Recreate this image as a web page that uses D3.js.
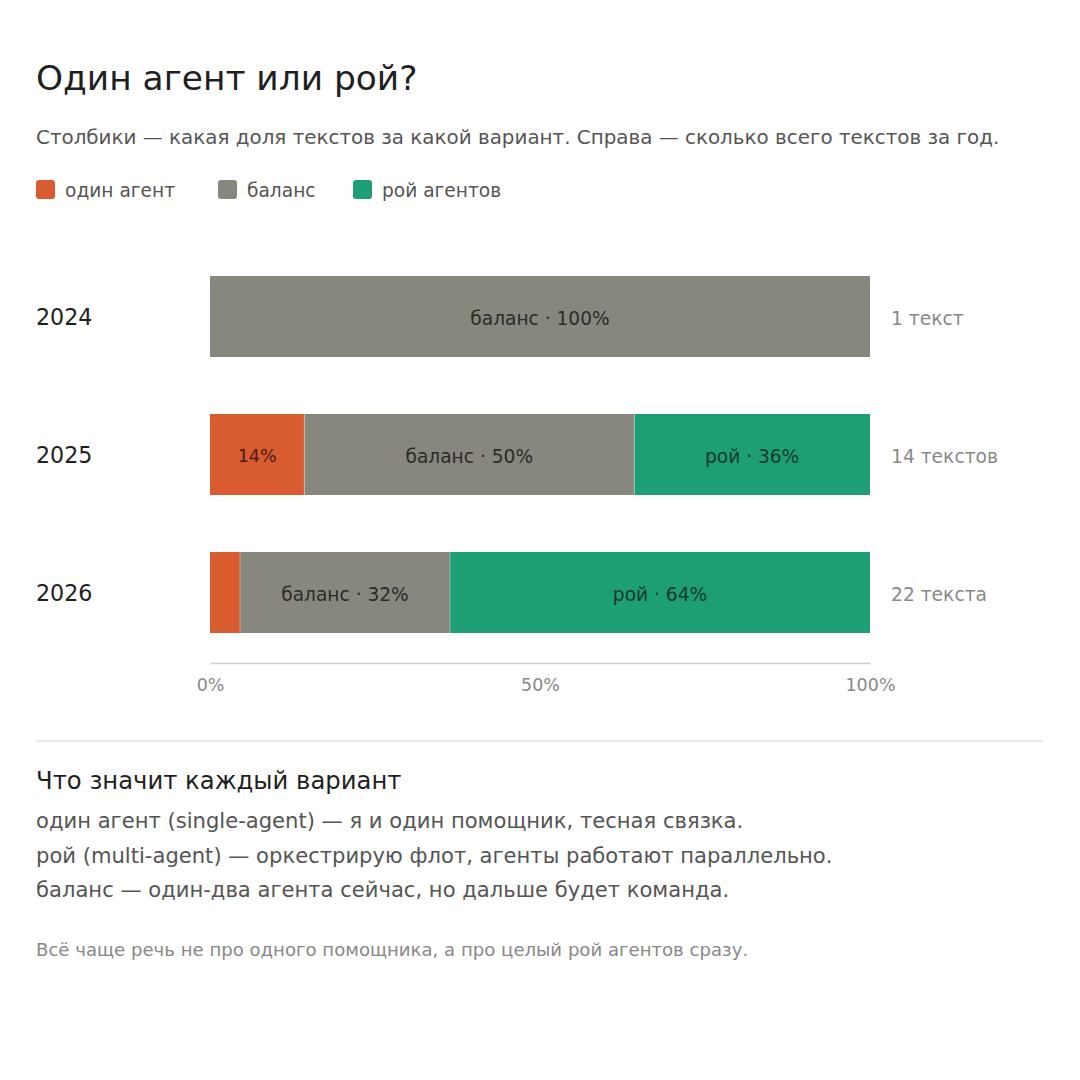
<!DOCTYPE html>
<html><head><meta charset="utf-8">
<script src="https://cdn.jsdelivr.net/npm/d3@7/dist/d3.min.js"></script>
<style>
html,body{margin:0;padding:0;background:#fff;}
svg{display:block;font-family:"DejaVu Sans",sans-serif;}
</style></head>
<body>
<svg id="chart" width="1080" height="1080"></svg>
<script>
const years = ["2024", "2025", "2026"];
const seriesKeys = ["single", "balance", "swarm"];
const seriesNames = ["один агент", "баланс", "рой агентов"];
const seriesShort = ["один", "баланс", "рой"];
const singleCounts = [0, 2, 1];
const balanceCounts = [1, 7, 7];
const swarmCounts = [0, 5, 14];
const totalLabels = ["1 текст", "14 текстов", "22 текста"];
const axisTicks = [0, 0.5, 1];
const colors = ["#D95B30", "#88877E", "#1E9E74"];
const textColors = ["#4a1c0e", "#2b2b28", "#0b3a2a"];
const definitions = [
  "один агент (single-agent) — я и один помощник, тесная связка.",
  "рой (multi-agent) — оркестрирую флот, агенты работают параллельно.",
  "баланс — один-два агента сейчас, но дальше будет команда."
];

const svg = d3.select("#chart");
const F = "DejaVu Sans";

svg.append("text").attr("x", 36).attr("y", 90).attr("font-size", 34.4).attr("fill", "#1f1f1f")
  .text("Один агент или рой?");
svg.append("text").attr("x", 36).attr("y", 144).attr("font-size", 19.9).attr("fill", "#555")
  .text("Столбики — какая доля текстов за какой вариант. Справа — сколько всего текстов за год.");

// legend
const legendX = [36, 218, 353];
seriesNames.forEach((n, i) => {
  svg.append("rect").attr("x", legendX[i]).attr("y", 180).attr("width", 19).attr("height", 19)
    .attr("rx", 3).attr("fill", colors[i]);
  svg.append("text").attr("x", legendX[i] + 29).attr("y", 197).attr("font-size", 18.6).attr("fill", "#555").text(n);
});

const rows = years.map((y, i) => {
  const vals = [singleCounts[i], balanceCounts[i], swarmCounts[i]];
  const total = d3.sum(vals);
  return { year: y, vals, total, label: totalLabels[i] };
});

const x = d3.scaleLinear().domain([0, 1]).range([210, 870]);
const y = d3.scaleBand().domain(years).range([276, 633]).paddingInner(57 / 138).paddingOuter(0);

const LF = 18.6;
const measure = svg.append("text").attr("font-size", LF).attr("visibility", "hidden");
function textW(s) { measure.text(s); return measure.node().getComputedTextLength(); }

rows.forEach(r => {
  let acc = 0;
  const g = svg.append("g");
  r.vals.forEach((v, i) => {
    const f0 = acc / r.total, f1 = (acc + v) / r.total;
    acc += v;
    if (v === 0) return;
    const x0 = x(f0), x1 = x(f1), w = x1 - x0;
    g.append("rect").attr("x", x0).attr("y", y(r.year)).attr("width", w).attr("height", y.bandwidth())
      .attr("fill", colors[i]);
    if (f0 > 0) {
      g.append("line").attr("x1", x0).attr("x2", x0).attr("y1", y(r.year)).attr("y2", y(r.year) + y.bandwidth())
        .attr("stroke", "#ffffff").attr("stroke-opacity", 0.35).attr("stroke-width", 1);
    }
    const pct = Math.round(v / r.total * 100) + "%";
    const full = seriesShort[i] + " · " + pct;
    let lab = null;
    if (textW(full) + 16 < w) lab = full;
    else if (textW(pct) + 16 < w) lab = pct;
    if (lab) {
      g.append("text").attr("x", (x0 + x1) / 2).attr("y", y(r.year) + y.bandwidth() / 2 + 1.5)
        .attr("dy", "0.36em").attr("text-anchor", "middle").attr("font-size", lab === pct ? 17.5 : LF)
        .attr("fill", textColors[i]).text(lab);
    }
  });
  svg.append("text").attr("x", 36).attr("y", y(r.year) + y.bandwidth() / 2 + 0.5).attr("dy", "0.36em")
    .attr("font-size", 22.2).attr("fill", "#1f1f1f").text(r.year);
  svg.append("text").attr("x", 891).attr("y", y(r.year) + y.bandwidth() / 2 + 1).attr("dy", "0.38em")
    .attr("font-size", 18.7).attr("fill", "#888").text(r.label);
});
measure.remove();

// axis
const axis = d3.axisBottom(x).tickValues(axisTicks).tickFormat(d3.format(".0%")).tickSize(0).tickPadding(16);
const ax = svg.append("g").attr("transform", "translate(0,663)").call(axis);
ax.select(".domain").attr("stroke", "#cfcec9").attr("stroke-width", 1.5);
ax.selectAll(".tick text").attr("font-family", F).attr("font-size", 17.5).attr("fill", "#888");

// divider
svg.append("line").attr("x1", 36).attr("x2", 1043).attr("y1", 741).attr("y2", 741)
  .attr("stroke", "#e3e3de").attr("stroke-width", 1.5);

svg.append("text").attr("x", 36).attr("y", 789).attr("font-size", 24.3).attr("fill", "#1f1f1f")
  .text("Что значит каждый вариант");
definitions.forEach((d, i) => {
  svg.append("text").attr("x", 36).attr("y", 828 + i * 34.5).attr("font-size", 21.1).attr("fill", "#555").text(d);
});
svg.append("text").attr("x", 36).attr("y", 956).attr("font-size", 18.1).attr("fill", "#888")
  .text("Всё чаще речь не про одного помощника, а про целый рой агентов сразу.");
</script>
</body></html>
